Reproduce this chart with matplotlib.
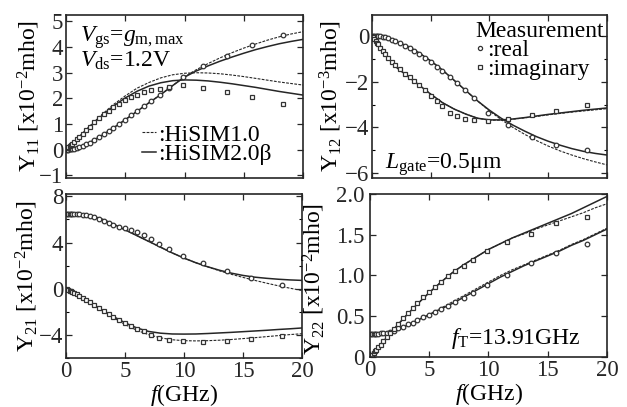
import numpy as np
import matplotlib
matplotlib.use('Agg')
import matplotlib.pyplot as plt
from matplotlib.lines import Line2D
from matplotlib.ticker import MultipleLocator, FixedLocator

plt.rcParams['font.family'] = ['Liberation Serif', 'DejaVu Serif']
plt.rcParams['mathtext.fontset'] = 'custom'
plt.rcParams['mathtext.rm'] = 'Liberation Serif'
plt.rcParams['mathtext.it'] = 'Liberation Serif:italic'

# ---- model frequency grid (GHz) ----
f_model = [0, 1, 2, 3, 4, 5, 6, 7, 8, 9, 10, 11, 12, 13, 14, 15, 16, 17, 18, 19, 20]

# ---- measurement frequencies (GHz) ----
f_meas = [0.1, 0.2, 0.3, 0.4, 0.5, 0.7, 0.9, 1.1, 1.4, 1.7, 2.0, 2.4, 2.8, 3.2, 3.6,
          4.0, 4.5, 5.0, 5.5, 6.0, 6.6, 7.2, 7.9, 8.7, 9.9, 11.6, 13.6, 15.7, 18.3]

# ---- Y11 [x1e-2 mho] ----
y11_re_h1 = [0, 0.08, 0.28, 0.55, 0.85, 1.17, 1.5, 1.83, 2.15, 2.5, 2.85, 3.12, 3.36, 3.58, 3.78, 3.96, 4.12, 4.27, 4.4, 4.51, 4.6]
y11_re_h2 = [0, 0.08, 0.28, 0.55, 0.85, 1.17, 1.5, 1.83, 2.15, 2.5, 2.83, 3.07, 3.27, 3.45, 3.61, 3.76, 3.9, 4.02, 4.13, 4.22, 4.3]
y11_im_h1 = [0, 0.46, 0.92, 1.36, 1.76, 2.1, 2.4, 2.62, 2.8, 2.92, 2.98, 3.0, 2.99, 2.96, 2.91, 2.85, 2.78, 2.71, 2.64, 2.58, 2.52]
y11_im_h2 = [0, 0.45, 0.9, 1.32, 1.7, 2.02, 2.28, 2.48, 2.61, 2.69, 2.72, 2.71, 2.68, 2.63, 2.57, 2.5, 2.43, 2.35, 2.27, 2.2, 2.13]
y11_re_meas = [0.0, 0.0, 0.01, 0.01, 0.02, 0.04, 0.07, 0.1, 0.15, 0.21, 0.28, 0.38, 0.5, 0.61, 0.73,
               0.85, 1.01, 1.17, 1.34, 1.5, 1.7, 1.9, 2.12, 2.4, 2.85, 3.26, 3.66, 4.07, 4.47]
y11_im_meas = [0.05, 0.09, 0.14, 0.18, 0.23, 0.32, 0.41, 0.5, 0.63, 0.77, 0.9, 1.07, 1.23, 1.38, 1.52,
               1.65, 1.8, 1.94, 2.05, 2.15, 2.25, 2.32, 2.38, 2.45, 2.53, 2.42, 2.24, 2.06, 1.8]

# ---- Y12 [x1e-3 mho] ----
y12_re_h1 = [0, -0.06, -0.25, -0.45, -0.75, -1.1, -1.5, -1.95, -2.4, -2.85, -3.28, -3.66, -4.0, -4.3, -4.57, -4.81, -5.02, -5.2, -5.36, -5.5, -5.63]
y12_re_h2 = [0, -0.06, -0.25, -0.45, -0.75, -1.1, -1.5, -1.95, -2.4, -2.85, -3.25, -3.6, -3.9, -4.16, -4.4, -4.6, -4.77, -4.92, -5.04, -5.13, -5.2]
y12_im_h1 = [0, -0.75, -1.35, -1.75, -2.15, -2.55, -2.92, -3.2, -3.42, -3.6, -3.68, -3.68, -3.64, -3.58, -3.52, -3.45, -3.39, -3.33, -3.28, -3.23, -3.18]
y12_im_h2 = [0, -0.75, -1.35, -1.75, -2.15, -2.55, -2.92, -3.2, -3.42, -3.6, -3.67, -3.67, -3.63, -3.57, -3.5, -3.43, -3.37, -3.31, -3.25, -3.2, -3.15]
y12_re_meas = [0.0, 0.0, -0.01, -0.01, -0.02, -0.03, -0.05, -0.08, -0.12, -0.17, -0.24, -0.33, -0.43, -0.55, -0.67,
               -0.8, -0.98, -1.15, -1.35, -1.55, -1.8, -2.05, -2.35, -2.7, -3.35, -3.9, -4.4, -4.75, -4.97]
y12_im_meas = [-0.08, -0.15, -0.23, -0.3, -0.38, -0.53, -0.68, -0.8, -0.98, -1.14, -1.28, -1.47, -1.65, -1.82, -1.98,
               -2.13, -2.38, -2.62, -2.85, -3.08, -3.35, -3.5, -3.62, -3.68, -3.7, -3.62, -3.46, -3.27, -3.03]

# ---- Y21 [x1e-2 mho] ----
y21_re_h1 = [6.45, 6.45, 6.35, 6.05, 5.6, 5.1, 4.6, 4.1, 3.6, 3.1, 2.65, 2.25, 1.9, 1.55, 1.25, 0.98, 0.72, 0.48, 0.25, 0.04, -0.16]
y21_re_h2 = [6.45, 6.45, 6.35, 6.05, 5.6, 5.1, 4.6, 4.1, 3.6, 3.1, 2.65, 2.25, 1.9, 1.6, 1.35, 1.15, 1.0, 0.9, 0.82, 0.76, 0.72]
y21_im_h1 = [0, -0.57, -1.2, -1.87, -2.5, -3.1, -3.6, -3.98, -4.25, -4.42, -4.5, -4.52, -4.5, -4.46, -4.4, -4.32, -4.24, -4.15, -4.06, -3.97, -3.9]
y21_im_h2 = [0, -0.55, -1.15, -1.8, -2.4, -2.95, -3.4, -3.7, -3.85, -3.92, -3.93, -3.92, -3.88, -3.83, -3.78, -3.72, -3.66, -3.6, -3.53, -3.47, -3.4]
y21_re_meas = [6.45, 6.45, 6.45, 6.45, 6.45, 6.45, 6.45, 6.44, 6.42, 6.38, 6.33, 6.22, 6.07, 5.9, 5.73,
               5.56, 5.35, 5.25, 5.12, 4.93, 4.65, 4.27, 3.9, 3.45, 2.86, 2.24, 1.53, 0.91, 0.34]
y21_im_meas = [-0.05, -0.11, -0.17, -0.22, -0.28, -0.39, -0.5, -0.62, -0.8, -0.98, -1.17, -1.42, -1.68, -1.93, -2.18,
               -2.42, -2.7, -2.97, -3.22, -3.45, -3.7, -4.0, -4.25, -4.45, -4.55, -4.6, -4.5, -4.33, -4.06]

# ---- Y22 [x1e-2 mho] ----
y22_re_h1 = [0.28, 0.29, 0.32, 0.38, 0.45, 0.52, 0.6, 0.68, 0.76, 0.84, 0.92, 1.0, 1.07, 1.13, 1.19, 1.25, 1.31, 1.38, 1.44, 1.51, 1.58]
y22_re_h2 = [0.28, 0.29, 0.32, 0.38, 0.45, 0.52, 0.59, 0.66, 0.74, 0.82, 0.9, 0.98, 1.05, 1.12, 1.18, 1.24, 1.3, 1.37, 1.43, 1.5, 1.57]
y22_im_h1 = [0, 0.17, 0.34, 0.5, 0.65, 0.79, 0.92, 1.04, 1.14, 1.23, 1.32, 1.39, 1.46, 1.51, 1.57, 1.62, 1.67, 1.72, 1.77, 1.83, 1.88]
y22_im_h2 = [0, 0.17, 0.34, 0.5, 0.65, 0.79, 0.92, 1.04, 1.14, 1.23, 1.32, 1.39, 1.46, 1.52, 1.58, 1.64, 1.7, 1.76, 1.83, 1.9, 1.97]
y22_re_meas = [0.28, 0.28, 0.28, 0.28, 0.28, 0.28, 0.29, 0.29, 0.3, 0.31, 0.32, 0.35, 0.37, 0.4, 0.42,
               0.45, 0.49, 0.52, 0.55, 0.59, 0.63, 0.67, 0.72, 0.78, 0.88, 1.0, 1.15, 1.27, 1.39]
y22_im_meas = [0.02, 0.03, 0.05, 0.07, 0.09, 0.12, 0.15, 0.19, 0.24, 0.29, 0.34, 0.41, 0.48, 0.54, 0.6,
               0.66, 0.73, 0.8, 0.86, 0.92, 0.99, 1.05, 1.12, 1.19, 1.3, 1.41, 1.51, 1.64, 1.72]

INK = '#262626'
FS = 17
TFS = 16.5

fig = plt.figure(figsize=(6.27, 4.07), dpi=100)
ax11 = fig.add_axes([0.1053, 0.5627, 0.378, 0.4005])
ax12 = fig.add_axes([0.5933, 0.5627, 0.3748, 0.4005])
ax21 = fig.add_axes([0.1053, 0.1204, 0.3764, 0.4029])
ax22 = fig.add_axes([0.5901, 0.1229, 0.378, 0.4005])


def draw_panel(ax, re_h1, re_h2, im_h1, im_h2, re_meas, im_meas):
    for h1, h2 in [(re_h1, re_h2), (im_h1, im_h2)]:
        ax.plot(f_model, h1, color=INK, lw=0.8, dashes=(2.5, 1.2))
        ax.plot(f_model, h2, color=INK, lw=1.1)
    ax.plot(f_meas, re_meas, 'o', ms=3.3, mfc='white', mec='#333333', mew=0.9)
    ax.plot(f_meas, im_meas, 's', ms=3.0, mfc='white', mec='#333333', mew=0.9)
    ax.set_xlim(0, 20)
    ax.xaxis.set_major_locator(MultipleLocator(5))
    ax.tick_params(direction='in', top=True, right=True, length=4, width=0.9,
                   labelsize=TFS, pad=2, colors=INK)
    ax.tick_params(which='minor', direction='in', top=True, right=True, length=2.5, width=0.8)
    for sp in ax.spines.values():
        sp.set_linewidth(1.2)
        sp.set_color(INK)


draw_panel(ax11, y11_re_h1, y11_re_h2, y11_im_h1, y11_im_h2, y11_re_meas, y11_im_meas)
draw_panel(ax12, y12_re_h1, y12_re_h2, y12_im_h1, y12_im_h2, y12_re_meas, y12_im_meas)
draw_panel(ax21, y21_re_h1, y21_re_h2, y21_im_h1, y21_im_h2, y21_re_meas, y21_im_meas)
draw_panel(ax22, y22_re_h1, y22_re_h2, y22_im_h1, y22_im_h2, y22_re_meas, y22_im_meas)

# Y11
ax11.set_ylim(-1.1, 5.25)
ax11.yaxis.set_major_locator(MultipleLocator(1))
ax11.set_xticklabels([])
ax11.set_ylabel('Y$_{11}$ [x10$^{-2}$mho]', fontsize=FS)
ax11.yaxis.set_label_coords(-0.1, 0.5)
ax11.text(0.06, 0.835, '$V_{\\rm gs}$=$g_{\\rm m,max}$', transform=ax11.transAxes, fontsize=FS)
ax11.text(0.06, 0.68, '$V_{\\rm ds}$=1.2V', transform=ax11.transAxes, fontsize=FS)
h_model = [Line2D([], [], color=INK, lw=0.8, dashes=(2.5, 1.2)),
           Line2D([], [], color=INK, lw=1.1)]
ax11.legend(h_model, [':HiSIM1.0', ':HiSIM2.0β'], loc='upper left',
            bbox_to_anchor=(0.32, 0.33), frameon=False, fontsize=FS,
            handlelength=0.6, handletextpad=0.1, labelspacing=-0.1,
            borderaxespad=0, borderpad=0)

# Y12
ax12.set_ylim(-6.2, 0.9)
ax12.yaxis.set_major_locator(MultipleLocator(2))
ax12.yaxis.set_minor_locator(MultipleLocator(1))
ax12.set_xticklabels([])
ax12.set_ylabel('Y$_{12}$ [x10$^{-3}$mho]', fontsize=FS)
ax12.yaxis.set_label_coords(-0.12, 0.5)
ax12.text(0.055, 0.06, '$L_{\\rm gate}$=0.5μm', transform=ax12.transAxes, fontsize=FS)
h_meas = [Line2D([], [], ls='', marker='o', ms=3, mfc='white', mec='#333333', mew=0.9),
          Line2D([], [], ls='', marker='s', ms=3, mfc='white', mec='#333333', mew=0.9)]
leg = ax12.legend(h_meas, [':real', ':imaginary'], title='Measurement',
                  title_fontsize=FS, loc='upper right', bbox_to_anchor=(0.985, 0.965),
                  frameon=False, fontsize=FS, handlelength=0.4, handletextpad=0.1,
                  labelspacing=-0.1, borderaxespad=0, borderpad=0)
leg._legend_box.align = 'left'

# Y21
ax21.set_ylim(-6, 8.2)
ax21.yaxis.set_major_locator(MultipleLocator(4))
ax21.yaxis.set_minor_locator(MultipleLocator(2))
ax21.set_ylabel('Y$_{21}$ [x10$^{-2}$mho]', fontsize=FS)
ax21.yaxis.set_label_coords(-0.11, 0.5)
ax21.set_xlabel('$f$(GHz)', fontsize=FS)
ax21.xaxis.set_label_coords(0.5, -0.145)

# Y22
ax22.set_ylim(0, 2.0)
ax22.yaxis.set_major_locator(FixedLocator([0, 0.5, 1.0, 1.5, 2.0]))
ax22.set_yticklabels(['0', '0.5', '1.0', '1.5', '2.0'])
ax22.tick_params(axis='y', pad=4)
ax22.set_ylabel('Y$_{22}$ [x10$^{-2}$mho]', fontsize=FS)
ax22.yaxis.set_label_coords(-0.18, 0.48)
ax22.set_xlabel('$f$(GHz)', fontsize=FS)
ax22.xaxis.set_label_coords(0.5, -0.145)
ax22.text(0.34, 0.08, '$f_{\\rm T}$=13.91GHz', transform=ax22.transAxes, fontsize=FS)

fig.savefig('out.png', dpi=100)
